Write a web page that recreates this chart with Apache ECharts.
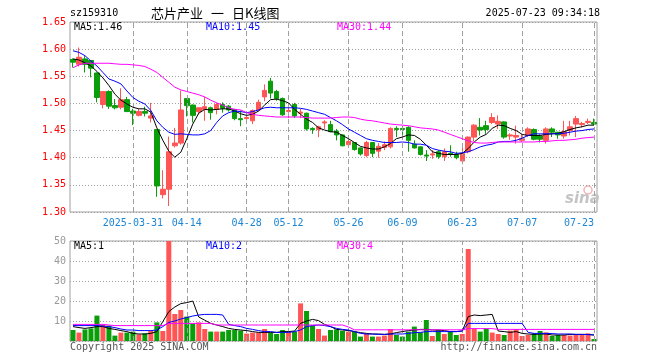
<!DOCTYPE html>
<html>
<head>
<meta charset="utf-8">
<script src="https://cdn.jsdelivr.net/npm/echarts@6/dist/echarts.min.js"></script>
<style>html,body{margin:0;padding:0;background:#fff;}#c{width:660px;height:360px;}</style>
</head>
<body>
<div id="c"></div>
<script>
const dates = [
'2025-03-17','2025-03-18','2025-03-19','2025-03-20','2025-03-21',
'2025-03-24','2025-03-25','2025-03-26','2025-03-27','2025-03-28',
'2025-03-31','2025-04-01','2025-04-02','2025-04-03',
'2025-04-07','2025-04-08','2025-04-09','2025-04-10','2025-04-11',
'2025-04-14','2025-04-15','2025-04-16','2025-04-17','2025-04-18',
'2025-04-21','2025-04-22','2025-04-23','2025-04-24','2025-04-25',
'2025-04-28','2025-04-29','2025-04-30',
'2025-05-06','2025-05-07','2025-05-08','2025-05-09',
'2025-05-12','2025-05-13','2025-05-14','2025-05-15','2025-05-16',
'2025-05-19','2025-05-20','2025-05-21','2025-05-22','2025-05-23',
'2025-05-26','2025-05-27','2025-05-28','2025-05-29','2025-05-30',
'2025-06-03','2025-06-04','2025-06-05','2025-06-06',
'2025-06-09','2025-06-10','2025-06-11','2025-06-12','2025-06-13',
'2025-06-16','2025-06-17','2025-06-18','2025-06-19','2025-06-20',
'2025-06-23','2025-06-24','2025-06-25','2025-06-26','2025-06-27',
'2025-06-30','2025-07-01','2025-07-02','2025-07-03','2025-07-04',
'2025-07-07','2025-07-08','2025-07-09','2025-07-10','2025-07-11',
'2025-07-14','2025-07-15','2025-07-16','2025-07-17','2025-07-18',
'2025-07-21','2025-07-22','2025-07-23'];

const opens = [1.581,1.572,1.582,1.579,1.556,1.498,1.522,1.496,1.493,1.507,
1.486,1.478,1.485,1.473,1.452,1.332,1.342,1.422,1.427,1.509,
1.497,1.485,1.489,1.492,1.489,1.498,1.495,1.489,1.472,1.472,
1.468,1.488,1.512,1.541,1.522,1.509,1.485,1.498,1.482,1.482,
1.454,1.452,1.464,1.461,1.449,1.442,1.424,1.428,1.418,1.404,
1.428,1.412,1.419,1.420,1.454,1.454,1.456,1.425,1.420,1.405,
1.405,1.411,1.402,1.408,1.406,1.394,1.411,1.438,1.456,1.459,
1.465,1.462,1.466,1.440,1.438,1.432,1.441,1.452,1.440,1.432,
1.453,1.447,1.440,1.450,1.462,1.461,1.465,1.465];
const closes = [1.576,1.585,1.572,1.565,1.511,1.522,1.495,1.492,1.507,1.485,
1.482,1.485,1.482,1.477,1.348,1.342,1.411,1.427,1.488,1.496,
1.478,1.492,1.494,1.483,1.498,1.491,1.488,1.472,1.470,1.474,
1.487,1.502,1.524,1.519,1.509,1.479,1.487,1.477,1.484,1.453,
1.452,1.457,1.466,1.448,1.442,1.422,1.430,1.415,1.407,1.428,
1.408,1.421,1.424,1.454,1.452,1.452,1.432,1.418,1.406,1.403,
1.407,1.402,1.411,1.406,1.400,1.408,1.438,1.460,1.451,1.452,
1.474,1.467,1.438,1.442,1.441,1.435,1.453,1.434,1.434,1.453,
1.447,1.442,1.448,1.457,1.472,1.463,1.467,1.462];
const lows = [1.566,1.568,1.557,1.548,1.502,1.491,1.490,1.489,1.489,1.484,
1.460,1.476,1.476,1.465,1.328,1.325,1.311,1.419,1.424,1.476,
1.465,1.480,1.468,1.470,1.480,1.483,1.485,1.469,1.458,1.462,
1.462,1.486,1.504,1.509,1.505,1.477,1.473,1.473,1.473,1.450,
1.444,1.438,1.453,1.447,1.432,1.421,1.419,1.413,1.404,1.401,
1.401,1.400,1.414,1.417,1.438,1.442,1.411,1.417,1.404,1.394,
1.398,1.398,1.394,1.402,1.397,1.388,1.408,1.430,1.441,1.444,
1.462,1.453,1.435,1.433,1.426,1.429,1.438,1.432,1.428,1.426,
1.438,1.435,1.435,1.441,1.438,1.456,1.462,1.460];
const highs = [1.583,1.603,1.587,1.580,1.557,1.522,1.524,1.508,1.528,1.512,
1.490,1.490,1.494,1.501,1.452,1.377,1.439,1.455,1.524,1.509,
1.498,1.493,1.512,1.494,1.501,1.502,1.497,1.490,1.487,1.480,
1.489,1.507,1.535,1.547,1.525,1.511,1.492,1.501,1.490,1.483,
1.456,1.459,1.469,1.468,1.453,1.443,1.435,1.429,1.419,1.431,
1.429,1.427,1.430,1.456,1.458,1.458,1.458,1.432,1.421,1.414,
1.414,1.414,1.417,1.423,1.411,1.420,1.439,1.462,1.473,1.468,
1.482,1.478,1.467,1.445,1.459,1.444,1.456,1.454,1.443,1.456,
1.456,1.447,1.468,1.468,1.477,1.466,1.472,1.472];

const ma5 = [1.582,1.580,1.575,1.569,1.559,1.547,1.533,1.517,1.506,1.499,
1.493,1.490,1.490,1.484,1.455,1.432,1.412,1.401,1.410,1.435,
1.462,1.482,1.489,1.488,1.489,1.490,1.490,1.486,1.481,1.478,
1.480,1.486,1.497,1.507,1.508,1.505,1.501,1.489,1.480,1.471,
1.465,1.455,1.451,1.448,1.447,1.441,1.435,1.428,1.421,1.418,
1.416,1.416,1.420,1.426,1.435,1.438,1.442,1.441,1.434,1.423,
1.411,1.408,1.406,1.406,1.406,1.408,1.417,1.429,1.438,1.443,
1.454,1.460,1.459,1.454,1.450,1.443,1.441,1.441,1.441,1.443,
1.444,1.445,1.448,1.452,1.455,1.457,1.460,1.460];
const ma10 = [1.597,1.594,1.588,1.578,1.569,1.557,1.545,1.541,1.536,1.523,
1.511,1.504,1.499,1.487,1.468,1.456,1.447,1.443,1.444,1.443,
1.442,1.442,1.444,1.450,1.465,1.477,1.483,1.486,1.485,1.483,
1.485,1.488,1.492,1.493,1.492,1.492,1.492,1.492,1.491,1.489,
1.486,1.483,1.480,1.474,1.468,1.461,1.453,1.447,1.441,1.435,
1.432,1.430,1.428,1.428,1.428,1.429,1.428,1.425,1.425,1.423,
1.417,1.414,1.412,1.411,1.408,1.409,1.411,1.415,1.420,1.423,
1.425,1.429,1.430,1.430,1.432,1.436,1.441,1.444,1.444,1.444,
1.444,1.444,1.445,1.447,1.449,1.450,1.452,1.453];
const ma30 = [1.566,1.571,1.574,1.574,1.574,1.574,1.574,1.573,1.572,1.572,
1.571,1.570,1.568,1.563,1.557,1.548,1.539,1.530,1.525,1.522,
1.519,1.516,1.512,1.506,1.501,1.497,1.492,1.489,1.488,1.483,
1.480,1.478,1.477,1.476,1.475,1.475,1.475,1.475,1.475,1.474,
1.473,1.473,1.473,1.473,1.474,1.475,1.475,1.474,1.471,1.469,
1.468,1.466,1.464,1.462,1.461,1.460,1.459,1.457,1.455,1.454,
1.453,1.451,1.447,1.443,1.439,1.435,1.431,1.428,1.427,1.427,
1.428,1.429,1.429,1.429,1.429,1.429,1.429,1.429,1.430,1.430,
1.431,1.432,1.432,1.433,1.434,1.436,1.437,1.438];

const volumes = [5.5,4.2,5.8,6.3,12.7,8.0,7.7,2.7,4.2,4.2,
4.7,3.3,3.8,5.0,9.3,5.0,50,13.5,15.5,12.2,
8.8,9.3,6.0,4.7,4.7,4.7,5.5,5.5,5.2,3.7,
4.2,4.2,6.0,4.2,3.5,5.5,4.7,4.7,18.8,15.0,
7.7,6.0,2.7,5.5,5.8,5.0,4.7,4.7,2.2,3.8,
2.2,2.2,2.7,6.0,3.0,2.2,4.7,7.2,4.3,10.5,
2.5,5.5,3.5,4.7,3.0,3.5,46,6.3,4.7,6.3,
4.2,3.5,3.0,5.2,6.0,2.5,3.0,3.8,5.0,4.3,
2.5,3.0,3.0,2.7,3.0,3.3,3.8,1.0];
const volMa5 = [7.2,6.7,6.3,6.7,7.2,7.2,6.3,5.8,5.2,4.7,
3.8,3.5,3.5,3.8,4.7,9.7,14.7,17.0,18.7,19.2,
20.0,12.0,10.4,8.8,8.0,7.2,6.3,5.8,5.5,5.2,
4.7,4.3,4.3,4.3,4.3,4.7,4.7,5.0,8.8,10.0,
10.8,10.2,8.3,7.2,5.8,5.5,5.2,4.7,4.2,3.8,
3.5,3.5,3.3,3.5,4.2,4.7,5.2,5.5,5.8,5.8,
5.5,5.5,5.2,4.7,4.7,5.0,12.2,13.0,12.7,13.0,
13.3,5.0,4.7,4.3,4.7,3.8,3.5,3.3,3.5,3.5,
3.0,3.0,3.0,3.3,3.3,3.3,3.3,3.0];
const volMa10 = [7.7,7.7,7.7,7.7,7.7,7.5,7.2,6.7,6.0,5.5,
5.5,5.2,5.2,5.2,5.5,7.2,9.3,10.0,11.0,11.7,
12.5,13.0,13.3,13.3,13.3,13.0,8.3,7.7,7.2,6.3,
5.8,5.2,4.7,4.7,4.3,4.3,4.3,4.7,5.5,7.2,
7.7,8.0,7.7,7.2,6.3,5.8,5.5,4.7,3.8,3.5,
3.5,3.3,3.3,3.5,3.5,3.5,3.8,4.2,4.3,4.7,
4.7,4.7,4.7,4.7,4.7,5.0,8.8,8.8,8.8,8.8,
8.8,8.8,8.8,8.8,8.8,8.8,4.3,3.8,3.8,3.8,
3.7,3.5,3.5,3.5,3.3,3.3,3.2,3.0];
const volMa30 = [8.3,8.3,8.3,8.3,8.3,8.3,8.0,7.7,7.7,7.7,
7.7,7.7,7.7,7.7,7.7,7.7,8.8,8.8,8.8,8.8,
8.8,8.8,8.8,8.8,8.0,8.0,8.0,8.0,8.0,8.0,
8.0,8.0,8.0,8.0,8.0,8.0,8.0,8.0,8.0,8.0,
8.0,8.0,8.0,8.0,8.0,8.0,7.0,5.6,5.6,5.6,
5.6,5.6,5.6,5.6,5.6,5.6,5.6,5.6,5.6,5.6,
5.6,5.6,5.6,5.6,5.6,5.6,6.2,6.2,6.2,6.2,
6.2,5.8,5.8,5.8,5.8,5.8,5.8,5.8,5.8,5.8,
5.8,5.8,5.8,5.8,5.8,5.8,5.8,5.8];

const markedDates = ['2025-03-31','2025-04-14','2025-04-28','2025-05-12','2025-05-26',
'2025-06-09','2025-06-23','2025-07-07','2025-07-23'];
const priceMin = 1.30, priceMax = 1.65, priceStep = 0.05;
const volMin = 0, volMax = 50, volStep = 10;

const RED = '#ff5555', GREEN = '#0a9e0a', GRIDC = '#a0a0a0';
const MONO = 'DejaVu Sans Mono';

const chart = echarts.init(document.getElementById('c'), null, {renderer: 'canvas'});
const vline = () => ({
  silent: true, symbol: ['none','none'], animation: false,
  label: {show: false},
  lineStyle: {color: GRIDC, type: [5,3], width: 1},
  data: markedDates.map(d => ({xAxis: d}))
});
const mkLine = (data, color, xi, yi) => ({
  type: 'line', data: data, xAxisIndex: xi, yAxisIndex: yi,
  showSymbol: false, symbol: 'none', smooth: false, animation: false,
  lineStyle: {color: color, width: 1}, z: 5, silent: true
});
const txt = (x, y, s, color, font, align) => ({
  type: 'text', x: x, y: y,
  style: {text: s, font: font || '10px "DejaVu Sans Mono"', fill: color || '#000',
          align: align || 'left', verticalAlign: 'middle'}
});

const option = {
  animation: false,
  backgroundColor: '#fff',
  grid: [
    {left: 70, top: 22, width: 527, height: 190, show: true, borderColor: GRIDC, borderWidth: 1},
    {left: 70, top: 241, width: 527, height: 100, show: true, borderColor: GRIDC, borderWidth: 1}
  ],
  xAxis: [
    {type: 'category', gridIndex: 0, data: dates, boundaryGap: true,
     axisLine: {show: false}, axisTick: {show: false}, splitLine: {show: false},
     axisLabel: {
       interval: (idx, val) => markedDates.indexOf(val) >= 0,
       formatter: (val) => val === '2025-03-31' ? val : val.slice(5),
       color: '#1c86d4', fontFamily: MONO, fontSize: 10, margin: 6,
       alignMaxLabel: 'right'
     }},
    {type: 'category', gridIndex: 1, data: dates, boundaryGap: true,
     axisLine: {show: false}, axisTick: {show: false}, splitLine: {show: false},
     axisLabel: {show: false}}
  ],
  yAxis: [
    {type: 'value', gridIndex: 0, min: priceMin, max: priceMax, interval: priceStep,
     axisLine: {show: false}, axisTick: {show: false},
     axisLabel: {color: '#ff0000', fontFamily: MONO, fontSize: 10, margin: 4,
       formatter: v => v.toFixed(2)},
     splitLine: {show: true, lineStyle: {color: GRIDC, type: [1,2], width: 1}}},
    {type: 'value', gridIndex: 1, min: volMin, max: volMax, interval: volStep,
     axisLine: {show: false}, axisTick: {show: false},
     axisLabel: {color: '#999', fontFamily: MONO, fontSize: 10, margin: 4,
       formatter: v => v === 0 ? '' : String(v)},
     splitLine: {show: true, lineStyle: {color: GRIDC, type: [1,2], width: 1}}}
  ],
  series: [
    {type: 'candlestick', xAxisIndex: 0, yAxisIndex: 0, barWidth: 5,
     data: dates.map((d, i) => [opens[i], closes[i], lows[i], highs[i]]),
     itemStyle: {color: RED, color0: GREEN, borderColor: RED, borderColor0: GREEN, borderWidth: 1},
     markLine: vline(), z: 3, silent: true},
    mkLine(ma5, '#000000', 0, 0),
    mkLine(ma10, '#0000ff', 0, 0),
    mkLine(ma30, '#ff00ff', 0, 0),
    {type: 'bar', xAxisIndex: 1, yAxisIndex: 1, barWidth: 5, data: volumes,
     itemStyle: {color: (p) => closes[p.dataIndex] >= opens[p.dataIndex] ? RED : GREEN},
     markLine: vline(), z: 3, silent: true},
    mkLine(volMa5, '#000000', 1, 1),
    mkLine(volMa10, '#0000ff', 1, 1),
    mkLine(volMa30, '#ff00ff', 1, 1)
  ],
  graphic: [
    txt(70, 13, 'sz159310'),
    txt(151, 13, '芯片产业', '#000', '13px "Noto Sans CJK SC"'),
    txt(211, 13, '一', '#000', '13px "Noto Sans CJK SC"'),
    txt(232, 13, '日K线图', '#000', '13px "Noto Sans CJK SC"'),
    txt(600, 13, '2025-07-23 09:34:18', '#000', null, 'right'),
    txt(74, 27, 'MA5:' + ma5[ma5.length-1].toFixed(2), '#000'),
    txt(206, 27, 'MA10:' + ma10[ma10.length-1].toFixed(2), '#0000ff'),
    txt(337, 27, 'MA30:' + ma30[ma30.length-1].toFixed(2), '#ff00ff'),
    txt(74, 246, 'MA5:1', '#000'),
    txt(206, 246, 'MA10:2', '#0000ff'),
    txt(337, 246, 'MA30:4', '#ff00ff'),
    txt(70, 347, 'Copyright 2025 SINA.COM', '#555'),
    txt(597, 347, 'http://finance.sina.com.cn', '#555', null, 'right'),
    txt(565, 199, 'sina', '#c4c4c4', 'italic bold 15px "DejaVu Sans"'),
    {type: 'circle', shape: {cx: 588, cy: 190, r: 4}, style: {fill: 'none', stroke: '#f2b4b4', lineWidth: 1.5}}
  ]
};
chart.setOption(option);
</script>
</body>
</html>
